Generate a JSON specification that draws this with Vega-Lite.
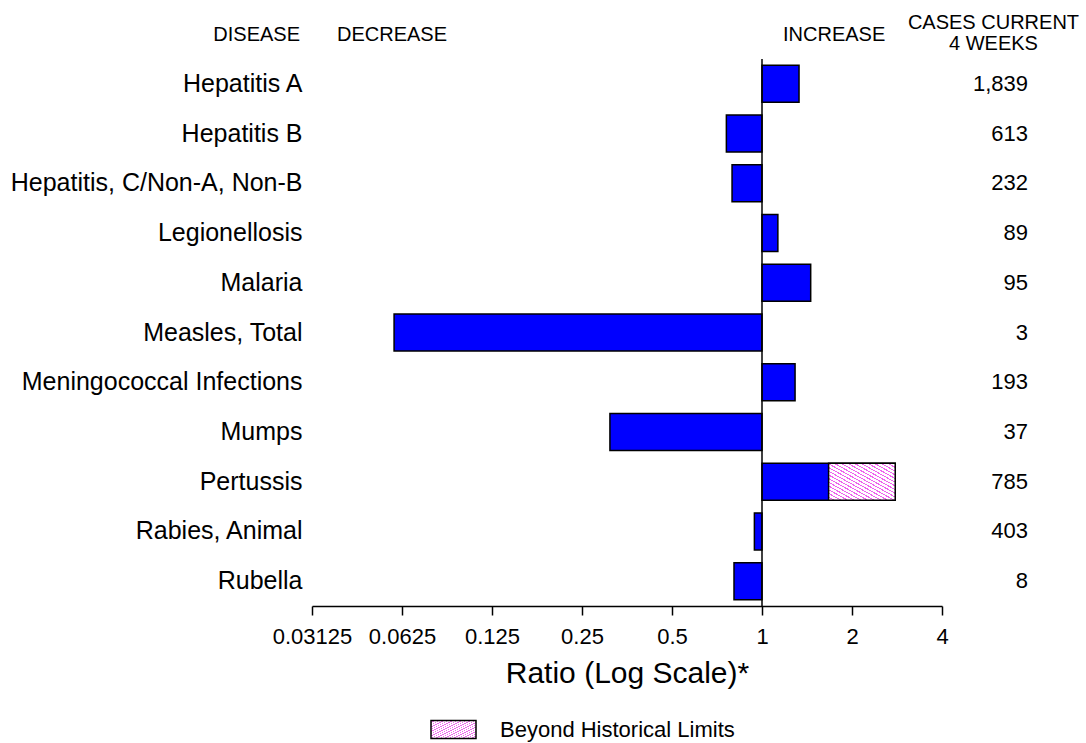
{
  "$schema": "https://vega.github.io/schema/vega-lite/v6.json",
  "padding": {"left": 10, "top": 5, "right": 5, "bottom": 0},
  "bounds": "flush",
  "spacing": 4,
  "config": {
    "font": "Liberation Sans",
    "view": {"stroke": null},
    "text": {"color": "black"}
  },
  "datasets": {
    "rows": [
      {"disease": "Hepatitis A", "ratio": 1.33, "cases": 1839},
      {"disease": "Hepatitis B", "ratio": 0.76, "cases": 613},
      {"disease": "Hepatitis, C/Non-A, Non-B", "ratio": 0.794, "cases": 232},
      {"disease": "Legionellosis", "ratio": 1.13, "cases": 89},
      {"disease": "Malaria", "ratio": 1.455, "cases": 95},
      {"disease": "Measles, Total", "ratio": 0.0588, "cases": 3},
      {"disease": "Meningococcal Infections", "ratio": 1.29, "cases": 193},
      {"disease": "Mumps", "ratio": 0.31, "cases": 37},
      {"disease": "Pertussis", "ratio": 2.79, "limit": 1.67, "cases": 785},
      {"disease": "Rabies, Animal", "ratio": 0.943, "cases": 403},
      {"disease": "Rubella", "ratio": 0.806, "cases": 8}
    ]
  },
  "vconcat": [
    {
      "width": 630,
      "height": 50,
      "data": {"values": [{}]},
      "layer": [
        {
          "mark": {"type": "text", "align": "right", "baseline": "middle", "fontSize": 20, "dy": 5},
          "encoding": {
            "x": {"datum": 0.02849, "type": "quantitative", "scale": {"type": "log", "domain": [0.03125, 4], "nice": false}, "axis": null},
            "text": {"value": "DISEASE"}
          }
        },
        {
          "mark": {"type": "text", "align": "left", "baseline": "middle", "fontSize": 20, "dy": 5},
          "encoding": {
            "x": {"datum": 0.03789, "type": "quantitative", "axis": null},
            "text": {"value": "DECREASE"}
          }
        },
        {
          "mark": {"type": "text", "align": "left", "baseline": "middle", "fontSize": 20, "dy": 5},
          "encoding": {
            "x": {"datum": 1.1755, "type": "quantitative", "axis": null},
            "text": {"value": "INCREASE"}
          }
        },
        {
          "mark": {"type": "text", "align": "center", "baseline": "middle", "fontSize": 20, "lineHeight": 21, "dy": -7},
          "encoding": {
            "x": {"datum": 5.946, "type": "quantitative", "axis": null},
            "text": {"value": ["CASES CURRENT", "4 WEEKS"]}
          }
        }
      ]
    },
    {
      "width": 630,
      "height": 547,
      "data": {"name": "rows"},
      "layer": [
        {
          "mark": {"type": "bar", "fill": "#0000ff", "stroke": "black", "strokeWidth": 1.5},
          "encoding": {
            "y": {
              "field": "disease", "type": "nominal", "sort": null,
              "scale": {"paddingInner": 0.256, "paddingOuter": 0.128},
              "axis": {"title": null, "domain": false, "ticks": false, "labelFontSize": 25, "labelPadding": 10, "labelColor": "black", "labelLimit": 400}
            },
            "x": {
              "field": "ratio", "type": "quantitative",
              "scale": {"type": "log", "domain": [0.03125, 4], "nice": false},
              "axis": {
                "title": "Ratio (Log Scale)*",
                "values": [0.03125, 0.0625, 0.125, 0.25, 0.5, 1, 2, 4],
                "format": "~g",
                "grid": false,
                "domainColor": "black", "domainWidth": 1.5,
                "tickColor": "black", "tickWidth": 1.5, "tickSize": 9,
                "labelFontSize": 22, "labelColor": "black", "labelPadding": 11,
                "labelFlush": false, "labelOverlap": false,
                "titleFontSize": 30, "titleFontWeight": "normal", "titleColor": "black", "titlePadding": 11
              }
            },
            "x2": {"datum": 1}
          }
        },
        {
          "transform": [{"filter": "isValid(datum.limit)"}],
          "mark": {
            "type": "bar", "strokeWidth": 1.5,
            "fill": {
              "gradient": "linear", "x1": 0, "y1": 1, "x2": 1, "y2": 0,
              "stops": [
                {"offset": 0, "color": "#ffffff"}, {"offset": 0.034, "color": "#ffffff"}, {"offset": 0.034, "color": "#ee66ee"}, {"offset": 0.05, "color": "#ee66ee"},
                {"offset": 0.05, "color": "#ffffff"}, {"offset": 0.084, "color": "#ffffff"}, {"offset": 0.084, "color": "#ee66ee"}, {"offset": 0.1, "color": "#ee66ee"},
                {"offset": 0.1, "color": "#ffffff"}, {"offset": 0.134, "color": "#ffffff"}, {"offset": 0.134, "color": "#ee66ee"}, {"offset": 0.15, "color": "#ee66ee"},
                {"offset": 0.15, "color": "#ffffff"}, {"offset": 0.184, "color": "#ffffff"}, {"offset": 0.184, "color": "#ee66ee"}, {"offset": 0.2, "color": "#ee66ee"},
                {"offset": 0.2, "color": "#ffffff"}, {"offset": 0.234, "color": "#ffffff"}, {"offset": 0.234, "color": "#ee66ee"}, {"offset": 0.25, "color": "#ee66ee"},
                {"offset": 0.25, "color": "#ffffff"}, {"offset": 0.284, "color": "#ffffff"}, {"offset": 0.284, "color": "#ee66ee"}, {"offset": 0.3, "color": "#ee66ee"},
                {"offset": 0.3, "color": "#ffffff"}, {"offset": 0.334, "color": "#ffffff"}, {"offset": 0.334, "color": "#ee66ee"}, {"offset": 0.35, "color": "#ee66ee"},
                {"offset": 0.35, "color": "#ffffff"}, {"offset": 0.384, "color": "#ffffff"}, {"offset": 0.384, "color": "#ee66ee"}, {"offset": 0.4, "color": "#ee66ee"},
                {"offset": 0.4, "color": "#ffffff"}, {"offset": 0.434, "color": "#ffffff"}, {"offset": 0.434, "color": "#ee66ee"}, {"offset": 0.45, "color": "#ee66ee"},
                {"offset": 0.45, "color": "#ffffff"}, {"offset": 0.484, "color": "#ffffff"}, {"offset": 0.484, "color": "#ee66ee"}, {"offset": 0.5, "color": "#ee66ee"},
                {"offset": 0.5, "color": "#ffffff"}, {"offset": 0.534, "color": "#ffffff"}, {"offset": 0.534, "color": "#ee66ee"}, {"offset": 0.55, "color": "#ee66ee"},
                {"offset": 0.55, "color": "#ffffff"}, {"offset": 0.584, "color": "#ffffff"}, {"offset": 0.584, "color": "#ee66ee"}, {"offset": 0.6, "color": "#ee66ee"},
                {"offset": 0.6, "color": "#ffffff"}, {"offset": 0.634, "color": "#ffffff"}, {"offset": 0.634, "color": "#ee66ee"}, {"offset": 0.65, "color": "#ee66ee"},
                {"offset": 0.65, "color": "#ffffff"}, {"offset": 0.684, "color": "#ffffff"}, {"offset": 0.684, "color": "#ee66ee"}, {"offset": 0.7, "color": "#ee66ee"},
                {"offset": 0.7, "color": "#ffffff"}, {"offset": 0.734, "color": "#ffffff"}, {"offset": 0.734, "color": "#ee66ee"}, {"offset": 0.75, "color": "#ee66ee"},
                {"offset": 0.75, "color": "#ffffff"}, {"offset": 0.784, "color": "#ffffff"}, {"offset": 0.784, "color": "#ee66ee"}, {"offset": 0.8, "color": "#ee66ee"},
                {"offset": 0.8, "color": "#ffffff"}, {"offset": 0.834, "color": "#ffffff"}, {"offset": 0.834, "color": "#ee66ee"}, {"offset": 0.85, "color": "#ee66ee"},
                {"offset": 0.85, "color": "#ffffff"}, {"offset": 0.884, "color": "#ffffff"}, {"offset": 0.884, "color": "#ee66ee"}, {"offset": 0.9, "color": "#ee66ee"},
                {"offset": 0.9, "color": "#ffffff"}, {"offset": 0.934, "color": "#ffffff"}, {"offset": 0.934, "color": "#ee66ee"}, {"offset": 0.95, "color": "#ee66ee"},
                {"offset": 0.95, "color": "#ffffff"}, {"offset": 0.984, "color": "#ffffff"}, {"offset": 0.984, "color": "#ee66ee"}, {"offset": 1, "color": "#ee66ee"}
              ]
            }
          },
          "encoding": {
            "y": {"field": "disease", "type": "nominal", "sort": null},
            "x": {"field": "limit", "type": "quantitative"},
            "x2": {"field": "ratio"},
            "stroke": {
              "datum": "Beyond Historical Limits", "type": "nominal",
              "scale": {"range": ["black"]},
              "legend": {
                "title": null, "orient": "none", "legendX": 118, "legendY": 701,
                "symbolType": "M-1,-0.4H1V0.4H-1Z", "symbolSize": 2025,
                "symbolStrokeWidth": 1.5,
                "labelFontSize": 22, "labelOffset": 23, "labelColor": "black", "labelLimit": 400
              }
            }
          }
        },
        {
          "data": {"values": [{}]},
          "mark": {"type": "rule", "stroke": "black", "strokeWidth": 1.5},
          "encoding": {"x": {"datum": 1, "type": "quantitative"}}
        },
        {
          "mark": {"type": "text", "align": "right", "baseline": "middle", "fontSize": 22},
          "encoding": {
            "y": {"field": "disease", "type": "nominal", "sort": null},
            "x": {"datum": 7.758, "type": "quantitative"},
            "text": {"field": "cases", "type": "quantitative", "format": ","}
          }
        }
      ]
    }
  ]
}
